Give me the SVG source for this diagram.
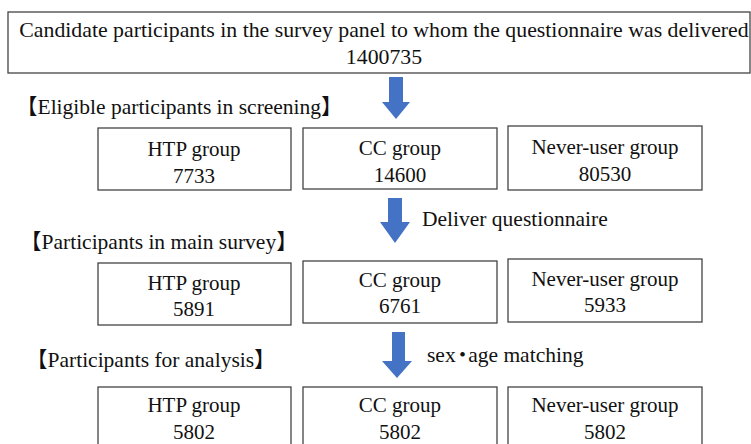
<svg xmlns="http://www.w3.org/2000/svg" width="751" height="444" viewBox="0 0 751 444">
<style>
.box{fill:#fff;stroke:#444;stroke-width:1.3}
.arr{fill:#4472c4}
</style>
<rect width="751" height="444" fill="#fff"/>
<g id="top"><rect class="box" x="8" y="12" width="742" height="61"/>
<text x="384" y="37" text-anchor="middle" font-family="Liberation Serif" font-size="21.8" fill="#111">Candidate participants in the survey panel to whom the questionnaire was delivered</text>
<text x="384" y="64" text-anchor="middle" font-family="Liberation Serif" font-size="21.8" fill="#111">1400735</text></g>
<g id="connectors">
<polygon class="arr" points="389,77 403,77 403,102 410,102 396,119 382,102 389,102"/>
<polygon class="arr" points="388,198 402,198 402,222 410,222 395,243 380,222 388,222"/>
<polygon class="arr" points="392,332 405,332 405,361 412,361 397,378 382,361 392,361"/>
</g>
<text x="16" y="114" font-family="Liberation Serif, Noto Sans CJK JP" font-size="21.5" fill="#111">【Eligible participants in screening】</text>
<text x="422" y="226" font-family="Liberation Serif" font-size="21.5" fill="#111">Deliver questionnaire</text>
<text x="20" y="249" font-family="Liberation Serif, Noto Sans CJK JP" font-size="21.5" fill="#111">【Participants in main survey】</text>
<text x="427" y="362" font-family="Liberation Serif, Noto Sans CJK JP" font-size="21.5" fill="#111">sex<tspan dx="-4">・</tspan><tspan dx="-5">age matching</tspan></text>
<text x="26" y="367" font-family="Liberation Serif, Noto Sans CJK JP" font-size="21.5" fill="#111">【Participants for analysis】</text>
<g id="s-htp"><rect class="box" x="98" y="128" width="193" height="62"/><text x="194" y="156" text-anchor="middle" font-family="Liberation Serif" font-size="21" fill="#111">HTP group</text><text x="194" y="183" text-anchor="middle" font-family="Liberation Serif" font-size="21" fill="#111">7733</text></g>
<g id="s-cc"><rect class="box" x="303" y="128" width="194" height="61"/><text x="400" y="155" text-anchor="middle" font-family="Liberation Serif" font-size="21" fill="#111">CC group</text><text x="400" y="182" text-anchor="middle" font-family="Liberation Serif" font-size="21" fill="#111">14600</text></g>
<g id="s-nu"><rect class="box" x="508" y="126" width="194" height="64"/><text x="605" y="154" text-anchor="middle" font-family="Liberation Serif" font-size="21" fill="#111">Never-user group</text><text x="605" y="181" text-anchor="middle" font-family="Liberation Serif" font-size="21" fill="#111">80530</text></g>
<g id="m-htp"><rect class="box" x="98" y="263" width="193" height="62"/><text x="194" y="290" text-anchor="middle" font-family="Liberation Serif" font-size="21" fill="#111">HTP group</text><text x="194" y="316" text-anchor="middle" font-family="Liberation Serif" font-size="21" fill="#111">5891</text></g>
<g id="m-cc"><rect class="box" x="303" y="261" width="194" height="62"/><text x="400" y="287" text-anchor="middle" font-family="Liberation Serif" font-size="21" fill="#111">CC group</text><text x="400" y="313" text-anchor="middle" font-family="Liberation Serif" font-size="21" fill="#111">6761</text></g>
<g id="m-nu"><rect class="box" x="508" y="259" width="194" height="63"/><text x="605" y="286" text-anchor="middle" font-family="Liberation Serif" font-size="21" fill="#111">Never-user group</text><text x="605" y="312" text-anchor="middle" font-family="Liberation Serif" font-size="21" fill="#111">5933</text></g>
<g id="a-htp"><rect class="box" x="98" y="387" width="193" height="70"/><text x="194" y="412" text-anchor="middle" font-family="Liberation Serif" font-size="21" fill="#111">HTP group</text><text x="194" y="439" text-anchor="middle" font-family="Liberation Serif" font-size="21" fill="#111">5802</text></g>
<g id="a-cc"><rect class="box" x="303" y="387" width="194" height="70"/><text x="400" y="412" text-anchor="middle" font-family="Liberation Serif" font-size="21" fill="#111">CC group</text><text x="400" y="439" text-anchor="middle" font-family="Liberation Serif" font-size="21" fill="#111">5802</text></g>
<g id="a-nu"><rect class="box" x="508" y="387" width="194" height="70"/><text x="605" y="412" text-anchor="middle" font-family="Liberation Serif" font-size="21" fill="#111">Never-user group</text><text x="605" y="439" text-anchor="middle" font-family="Liberation Serif" font-size="21" fill="#111">5802</text></g>
</svg>
